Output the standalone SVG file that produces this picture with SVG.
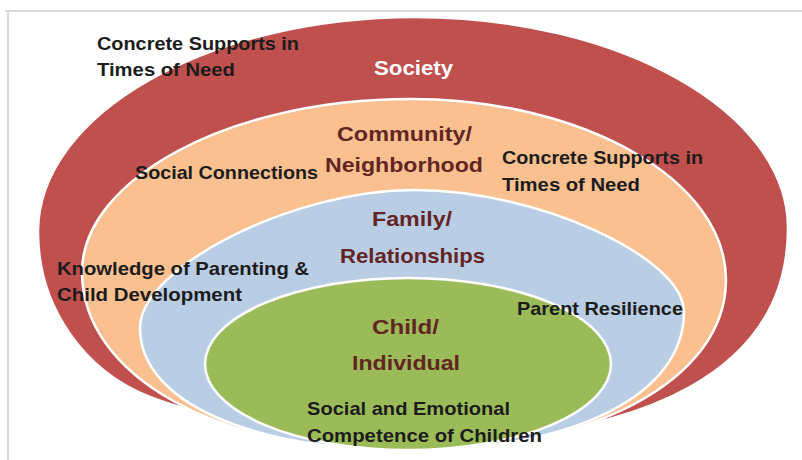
<svg xmlns="http://www.w3.org/2000/svg" width="802" height="460" viewBox="0 0 802 460">
  <style>
    .frame { stroke: #d9d9d9; stroke-width: 2; fill: none; }
    .ring { stroke: #ffffff; stroke-width: 2.5; }
    .society { fill: #c0504d; }
    .community { fill: #fac090; }
    .family { fill: #b9cde5; }
    .child { fill: #9bbb59; }
    .lbl { font-family: "Liberation Sans", Arial, sans-serif; font-weight: bold; font-size: 18.5px; fill: #1c1c1c; }
    .head { font-family: "Liberation Sans", Arial, sans-serif; font-weight: bold; font-size: 21px; fill: #632523; }
    .white { fill: #ffffff; }
  </style>

  <rect width="802" height="460" fill="#ffffff"/>
  <!-- slide frame -->
  <path class="frame" d="M5 11 H802 M8 11 V460"/>

  <!-- outer ring: society -->
  <g id="society">
    <path class="ring society" d="M38 232 C38 114 208 17 415 17 C620 17 788 112 788 228 C788 367 654 442 405 442 C330 442 200 417 150 397 C84 371 38 307 38 232 Z"/>
    <text class="head white" x="374" y="75" textLength="79" lengthAdjust="spacingAndGlyphs">Society</text>
  </g>

  <!-- second ring: community / neighborhood -->
  <g id="community">
    <path class="ring community" d="M82 272 C82 180 228 99 410 99 C584 99 726 180 726 280 C726 380 591 452 405 452 C218 452 82 376 82 272 Z"/>
    <text class="head" x="337" y="141" textLength="135" lengthAdjust="spacingAndGlyphs">Community/</text>
    <text class="head" x="325" y="172" textLength="158" lengthAdjust="spacingAndGlyphs">Neighborhood</text>
  </g>

  <!-- third ring: family / relationships -->
  <g id="family">
    <path class="ring family" d="M140 328 C140 268 291 190 415 190 C536 190 684 257 684 312 C684 395 574 450 410 450 C248 450 140 401 140 328 Z"/>
    <text class="head" x="372" y="226" textLength="80" lengthAdjust="spacingAndGlyphs">Family/</text>
    <text class="head" x="340" y="263" textLength="145" lengthAdjust="spacingAndGlyphs">Relationships</text>
  </g>

  <!-- core: child / individual -->
  <g id="child">
    <ellipse class="ring child" cx="408" cy="364" rx="203" ry="86"/>
    <text class="head" x="372" y="334" textLength="67" lengthAdjust="spacingAndGlyphs">Child/</text>
    <text class="head" x="352" y="370" textLength="108" lengthAdjust="spacingAndGlyphs">Individual</text>
  </g>

  <!-- protective-factor labels, drawn over all rings -->
  <g id="factors">
    <text class="lbl" x="97" y="50" textLength="202" lengthAdjust="spacingAndGlyphs">Concrete Supports in</text>
    <text class="lbl" x="97" y="76" textLength="138" lengthAdjust="spacingAndGlyphs">Times of Need</text>
    <text class="lbl" x="135" y="179" textLength="183" lengthAdjust="spacingAndGlyphs">Social Connections</text>
    <text class="lbl" x="502" y="164" textLength="201" lengthAdjust="spacingAndGlyphs">Concrete Supports in</text>
    <text class="lbl" x="502" y="191" textLength="138" lengthAdjust="spacingAndGlyphs">Times of Need</text>
    <text class="lbl" x="57" y="275" textLength="252" lengthAdjust="spacingAndGlyphs">Knowledge of Parenting &amp;</text>
    <text class="lbl" x="57" y="301" textLength="185" lengthAdjust="spacingAndGlyphs">Child Development</text>
    <text class="lbl" x="517" y="315" textLength="166" lengthAdjust="spacingAndGlyphs">Parent Resilience</text>
    <text class="lbl" x="307" y="415" textLength="203" lengthAdjust="spacingAndGlyphs">Social and Emotional</text>
    <text class="lbl" x="307" y="442" textLength="235" lengthAdjust="spacingAndGlyphs">Competence of Children</text>
  </g>
</svg>
